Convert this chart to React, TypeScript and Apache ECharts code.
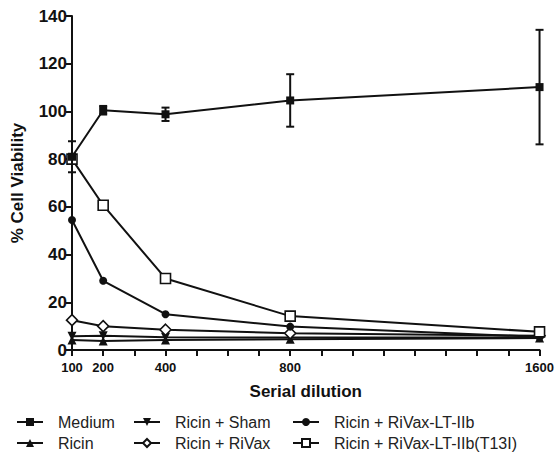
import React, { useEffect, useRef } from "react";
import * as echarts from "echarts";

const dilutions = [100, 200, 400, 800, 1600];
const xTickLabels = [100, 200, 400, 800, 1600];
const medium = [81, 100.5, 98.8, 104.6, 110.2];
const mediumErr = [6.5, 1.8, 2.8, 11, 24];
const ricin = [4.2, 3.8, 4.2, 4.5, 5];
const ricinSham = [5.8, 6, 5.3, 5.2, 5.2];
const ricinRiVax = [12.5, 10, 8.5, 7, 6];
const ricinLT = [54.5, 29, 15, 9.8, 5.5];
const ricinT13I = [80, 60.7, 30, 14.2, 7.6];

const names = [
  "Medium",
  "Ricin",
  "Ricin + Sham",
  "Ricin + RiVax",
  "Ricin + RiVax-LT-IIb",
  "Ricin + RiVax-LT-IIb(T13I)",
];

const FONT = "'Liberation Sans', Arial, sans-serif";
const pair = (arr: number[]) => dilutions.map((d, i) => [d, arr[i]]);

export default function App() {
  const ref = useRef<HTMLDivElement>(null);
  useEffect(() => {
    if (!ref.current) return;
    const chart = echarts.init(ref.current, undefined, { renderer: "svg" });
    const line = (name: string, data: number[], symbol: string, size: number, open: boolean, z: number) => ({
      type: "line",
      name,
      data: pair(data),
      symbol,
      symbolSize: size,
      showSymbol: true,
      z,
      lineStyle: { color: "#111", width: 2 },
      itemStyle: open
        ? { color: "#fff", borderColor: "#111", borderWidth: 1.6 }
        : { color: "#111", borderColor: "#111", borderWidth: 0 },
    });
    const legendCommon = {
      orient: "vertical",
      padding: 0,
      itemWidth: 26,
      itemHeight: 10,
      itemGap: 3,
      height: 41,
      textStyle: { fontFamily: FONT, fontSize: 16, color: "#222", padding: [0, 0, 0, 10], lineHeight: 18 },
    };
    chart.setOption({
      animation: false,
      backgroundColor: "#fff",
      grid: { left: 72, right: 17, top: 16, bottom: 105 },
      legend: [
        { ...legendCommon, left: 16, top: 413, data: [names[0], names[1]] },
        { ...legendCommon, left: 133, top: 413, data: [names[2], names[3]] },
        { ...legendCommon, left: 292, top: 413, data: [names[4], names[5]] },
      ],
      xAxis: {
        type: "value",
        min: 100,
        max: 1600,
        interval: 100,
        name: "Serial dilution",
        nameLocation: "middle",
        nameGap: 33,
        nameTextStyle: { fontFamily: FONT, fontSize: 17, fontWeight: "bold", color: "#111" },
        splitLine: { show: false },
        axisLine: { lineStyle: { color: "#111", width: 2 } },
        axisTick: { inside: false, length: 6, lineStyle: { color: "#111", width: 2 } },
        axisLabel: {
          fontFamily: FONT,
          fontSize: 13,
          fontWeight: "bold",
          color: "#111",
          margin: 11,
          formatter: (v: number) => (xTickLabels.includes(v) ? String(v) : ""),
        },
      },
      yAxis: {
        type: "value",
        min: 0,
        max: 140,
        interval: 20,
        name: "% Cell Viability",
        nameLocation: "middle",
        nameGap: 46,
        nameTextStyle: { fontFamily: FONT, fontSize: 17, fontWeight: "bold", color: "#111" },
        splitLine: { show: false },
        axisLine: { show: true, lineStyle: { color: "#111", width: 2 } },
        axisTick: { show: true, length: 6, lineStyle: { color: "#111", width: 2 } },
        axisLabel: { fontFamily: FONT, fontSize: 17, fontWeight: "bold", color: "#111", margin: 5 },
      },
      series: [
        line(names[1], ricin, "triangle", 9, false, 2),
        line(names[2], ricinSham, "path://M0,0 L10,0 L5,9 Z", 9, false, 2),
        line(names[3], ricinRiVax, "diamond", 11, true, 3),
        line(names[4], ricinLT, "circle", 8, false, 3),
        line(names[5], ricinT13I, "rect", 10, true, 4),
        line(names[0], medium, "rect", 8, false, 5),
        {
          type: "custom",
          name: "Medium error",
          z: 5,
          data: dilutions.map((d, i) => [d, medium[i], mediumErr[i]]),
          renderItem: (params: any, api: any) => {
            const x = api.value(0);
            const m = api.value(1);
            const e = api.value(2);
            const hi = api.coord([x, m + e]);
            const lo = api.coord([x, m - e]);
            const style = { stroke: "#111", lineWidth: 2 };
            const w = 4;
            return {
              type: "group",
              children: [
                { type: "line", shape: { x1: hi[0], y1: hi[1], x2: lo[0], y2: lo[1] }, style },
                { type: "line", shape: { x1: hi[0] - w, y1: hi[1], x2: hi[0] + w, y2: hi[1] }, style },
                { type: "line", shape: { x1: lo[0] - w, y1: lo[1], x2: lo[0] + w, y2: lo[1] }, style },
              ],
            };
          },
        },
      ],
    });
    return () => chart.dispose();
  }, []);
  return (
    <div
      ref={ref}
      style={{ position: "fixed", left: 0, top: 0, width: 557, height: 455, background: "#fff" }}
    />
  );
}
